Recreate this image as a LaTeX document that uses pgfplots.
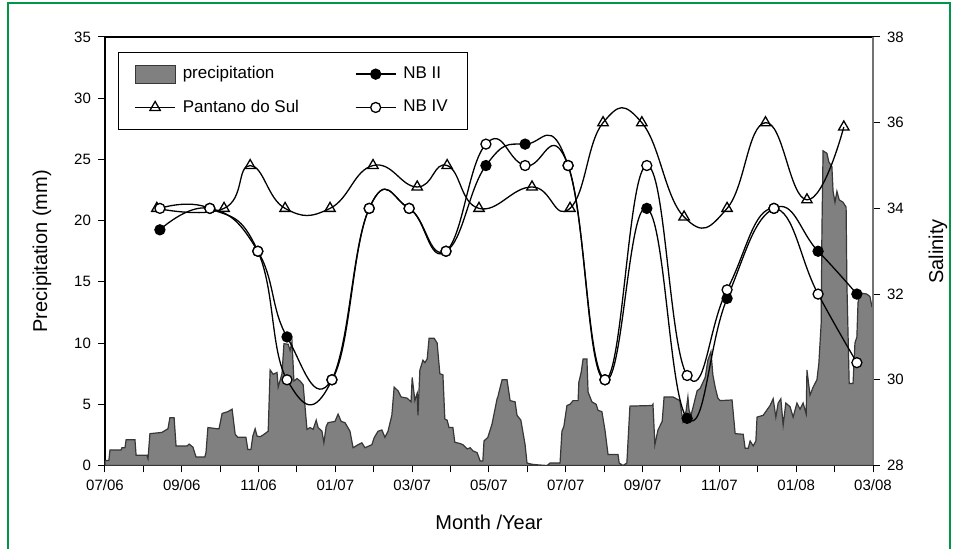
\documentclass[border=0pt]{standalone}
\usepackage{fontspec}
\setmainfont{Liberation Sans}
\usepackage{pgfplots}
\pgfplotsset{compat=1.18}
\definecolor{framegreen}{RGB}{0,150,70}
\definecolor{rain}{RGB}{128,128,128}
\definecolor{rainedge}{RGB}{55,55,55}

\pgfplotsset{
  common/.style={
    scale only axis, width=384pt, height=214.25pt,
    at={(0,0)}, anchor=south west,
    xmin=0, xmax=20,
    tick align=outside, major tick length=3.5pt, minor tick length=3.5pt,
    tick style={black, line width=0.5pt},
    ticklabel style={font=\fontsize{7.5}{9}\selectfont},
    /pgf/number format/assume math mode=true,
    label style={font=\fontsize{10}{12}\selectfont},
  },
  lineimg/.style={legend image code/.code={
    \draw[mark repeat=2, mark phase=2, ##1] plot coordinates {(0pt,0pt) (10pt,0pt) (20pt,0pt)};
    \path (21.5pt,0pt);}},
}

\begin{document}
\begin{tikzpicture}
\useasboundingbox (-52.5pt,-41.75pt) rectangle (425pt,232.75pt);
\draw[framegreen, line width=1.1pt] (-48.5pt,-50pt) -- (-48.5pt,231.25pt) -- (422.5pt,231.25pt) -- (422.5pt,-50pt);

% precipitation, left axis
\begin{axis}[common,
  ymin=0, ymax=35,
  axis line style={black, line width=0.6pt},
  xtick={0,2,...,20},
  xticklabels={07/06,09/06,11/06,01/07,03/07,05/07,07/07,09/07,11/07,01/08,03/08},
  minor xtick={1,3,...,19},
  ytick={0,5,...,35},
  xtick pos=bottom, ytick pos=left,
  xlabel={Month /Year},
  ylabel={Precipitation (mm)},
  xlabel style={at={(axis description cs:0.5,-0.132)}, anchor=center},
  ylabel style={at={(axis description cs:-0.082,0.5)}, anchor=center},
]
\addplot[fill=rain, draw=rainedge, line width=0.6pt] coordinates {
(0,0)(0.00,0.4)(0.10,0.4)(0.13,1.27)(0.42,1.27)(0.44,1.45)(0.52,1.45)(0.55,2.1)(0.78,2.1)(0.81,0.83)
(1.09,0.83)(1.12,0.55)(1.17,2.6)(1.48,2.7)(1.64,3.0)(1.69,3.9)(1.80,3.9)(1.85,1.6)(2.14,1.6)(2.19,1.75)
(2.29,1.5)(2.37,0.7)(2.60,0.7)(2.63,1.05)(2.68,3.1)(2.92,3.0)(2.97,3.0)(3.05,4.25)(3.20,4.4)(3.31,4.6)
(3.39,2.55)(3.46,2.3)(3.67,2.3)(3.72,1.3)(3.80,1.3)(3.85,2.4)(3.91,3.0)(3.96,2.4)(4.04,2.35)
(4.12,2.5)(4.25,2.8)(4.30,7.8)(4.38,7.45)(4.48,7.6)(4.51,6.4)(4.61,7.5)(4.66,9.95)(4.77,9.9)(4.82,9.4)
(4.87,10.1)(4.92,6.9)(5.00,7.1)(5.08,6.9)(5.16,6.6)(5.26,2.95)(5.34,3.1)(5.42,2.95)(5.50,3.7)(5.55,3.1)
(5.65,2.8)(5.70,1.86)(5.76,3.2)(5.81,3.5)(5.99,3.6)(6.07,4.2)(6.15,3.6)(6.25,3.5)(6.38,2.8)(6.46,1.45)
(6.59,1.7)(6.69,1.85)(6.77,1.45)(6.95,1.7)(7.01,2.27)(7.11,2.8)(7.21,2.9)(7.29,2.3)(7.37,2.8)(7.47,4.1)
(7.53,6.4)(7.63,6.1)(7.71,5.6)(7.87,5.5)(7.97,5.2)(8.00,7.2)(8.07,5.3)
(8.13,5.9)(8.15,4.1)(8.20,7.8)(8.28,8.6)(8.33,8.4)(8.39,8.7)(8.44,10.4)(8.57,10.4)(8.65,10.0)(8.72,7.5)
(8.80,7.4)(8.85,3.8)(8.91,3.7)(8.96,3.1)(9.06,3.1)(9.11,1.9)(9.24,1.8)(9.32,1.7)(9.43,1.35)(9.51,1.45)
(9.58,1.2)(9.69,1.05)(9.77,0.37)(9.84,0.37)(9.87,2.0)(9.97,2.3)(10.08,3.4)(10.21,5.45)(10.23,5.6)
(10.34,7.0)(10.47,7.0)(10.55,5.3)(10.68,5.2)(10.73,4.1)(10.83,3.7)(10.94,1.7)(10.99,0.2)(11.12,0.1)
(11.28,0.05)(11.51,0.0)(11.59,0.2)(11.85,0.2)(11.90,2.8)(11.95,3.2)(12.03,4.9)(12.11,5.0)(12.19,5.3)
(12.32,5.3)(12.34,6.8)(12.40,7.6)(12.45,8.7)(12.55,8.7)(12.58,6.0)(12.68,5.2)(12.79,5.0)(12.84,4.5)
(12.94,4.4)(13.02,2.9)(13.10,0.9)(13.36,0.9)(13.39,0.2)(13.49,0.0)(13.59,0.2)(13.67,4.85)(14.25,4.9)
(14.27,5.0)(14.32,1.7)(14.40,2.9)(14.51,3.6)(14.56,5.6)(14.79,5.6)(14.97,5.3)(15.05,3.6)(15.13,4.4)
(15.18,5.6)(15.21,4.5)(15.26,4.1)(15.31,4.7)(15.42,6.1)(15.50,6.3)(15.63,7.2)(15.70,8.6)(15.78,9.3)
(15.83,7.4)(15.89,6.4)(15.96,5.5)(16.02,5.3)(16.33,5.35)(16.41,2.6)(16.62,2.55)(16.67,1.4)(16.75,1.4)
(16.80,2.0)(16.88,1.6)(16.95,2.0)(16.98,3.95)(17.14,4.1)(17.32,4.9)(17.40,5.45)(17.47,3.95)(17.53,5.1)
(17.60,5.45)(17.66,3.3)(17.73,5.1)(17.84,4.8)(17.92,3.95)(18.02,5.1)(18.10,4.6)(18.18,5.1)(18.26,4.2)
(18.28,7.8)(18.36,5.75)(18.44,6.4)(18.54,7.0)(18.59,8.35)(18.65,11.6)(18.67,19.2)(18.70,25.7)(18.80,25.5)
(18.85,24.8)(18.93,24.4)(18.96,22.4)(19.01,21.5)(19.06,22.4)(19.12,21.7)(19.22,21.5)(19.30,21.1)
(19.32,14.9)(19.38,6.7)(19.48,6.7)(19.53,10.0)(19.58,10.5)(19.61,13.3)(19.66,14.1)(19.84,14.0)
(19.92,13.8)(19.97,13.0)(20.0,12.9)(20,0)
} -- cycle;
\end{axis}

% salinity, right axis
\begin{axis}[common,
  ymin=28, ymax=38,
  axis x line=none, axis y line*=right,
  y axis line style={black!55, line width=0.6pt},
  ytick={28,30,...,38},
  ylabel={Salinity},
  ylabel style={at={(axis description cs:1.0846,0.5)}, anchor=center},
  legend columns=2,
  legend cell align=left,
  legend style={at={(0.0169,0.965)}, anchor=north west, draw=black, line width=0.5pt,
    font=\fontsize{8.5}{10}\selectfont, row sep=5pt, inner xsep=8pt, inner ysep=5pt,
    /tikz/every even column/.append style={column sep=26pt}},
]
\addplot[smooth, tension=0.8, black, line width=0.65pt, mark=triangle, mark size=3pt,
  mark options={fill=white, solid}, forget plot] coordinates {
(1.35,34.0)(3.10,34.0)(3.78,35.0)(4.69,34.0)(5.86,34.0)(6.98,35.0)(8.13,34.5)(8.91,35.0)(9.74,34.0)
(11.12,34.5)(12.11,34.0)(12.97,36.0)(13.98,36.0)(15.08,33.8)(16.20,34.0)(17.20,36.0)(18.28,34.2)(19.24,35.9)
};
\addplot[smooth, tension=0.8, black, line width=0.65pt, mark=*, mark size=2.5pt,
  mark options={fill=black}, forget plot] coordinates {
(1.43,33.5)(2.73,34.0)(3.98,33.0)(4.74,31.0)(5.91,30.0)(6.88,34.0)(7.92,34.0)(8.88,33.0)(9.92,35.0)
(10.94,35.5)(12.06,35.0)(13.02,30.0)(14.11,34.0)(15.16,29.1)(16.20,31.9)(17.42,34.0)(18.57,33.0)(19.58,32.0)
};
\addplot[smooth, tension=0.8, black, line width=0.65pt, mark=*, mark size=2.5pt,
  mark options={fill=white}, forget plot] coordinates {
(1.43,34.0)(2.73,34.0)(3.98,33.0)(4.74,30.0)(5.91,30.0)(6.88,34.0)(7.92,34.0)(8.88,33.0)(9.92,35.5)
(10.94,35.0)(12.06,35.0)(13.02,30.0)(14.11,35.0)(15.16,30.1)(16.20,32.1)(17.42,34.0)(18.57,32.0)(19.58,30.4)
};
\addlegendimage{legend image code/.code={\draw[fill=rain, draw=rainedge, line width=0.5pt] (0pt,-4.5pt) rectangle (20pt,4.5pt); \path (21.5pt,0pt);}}
\addlegendentry{precipitation}
\addlegendimage{lineimg, black, line width=0.65pt, mark=*, mark size=2.5pt, mark options={fill=black}}
\addlegendentry{NB II}
\addlegendimage{lineimg, black, line width=0.65pt, mark=triangle, mark size=3pt, mark options={fill=white}}
\addlegendentry{Pantano do Sul}
\addlegendimage{lineimg, black, line width=0.65pt, mark=*, mark size=2.5pt, mark options={fill=white}}
\addlegendentry{NB IV}
\end{axis}
\end{tikzpicture}
\end{document}
